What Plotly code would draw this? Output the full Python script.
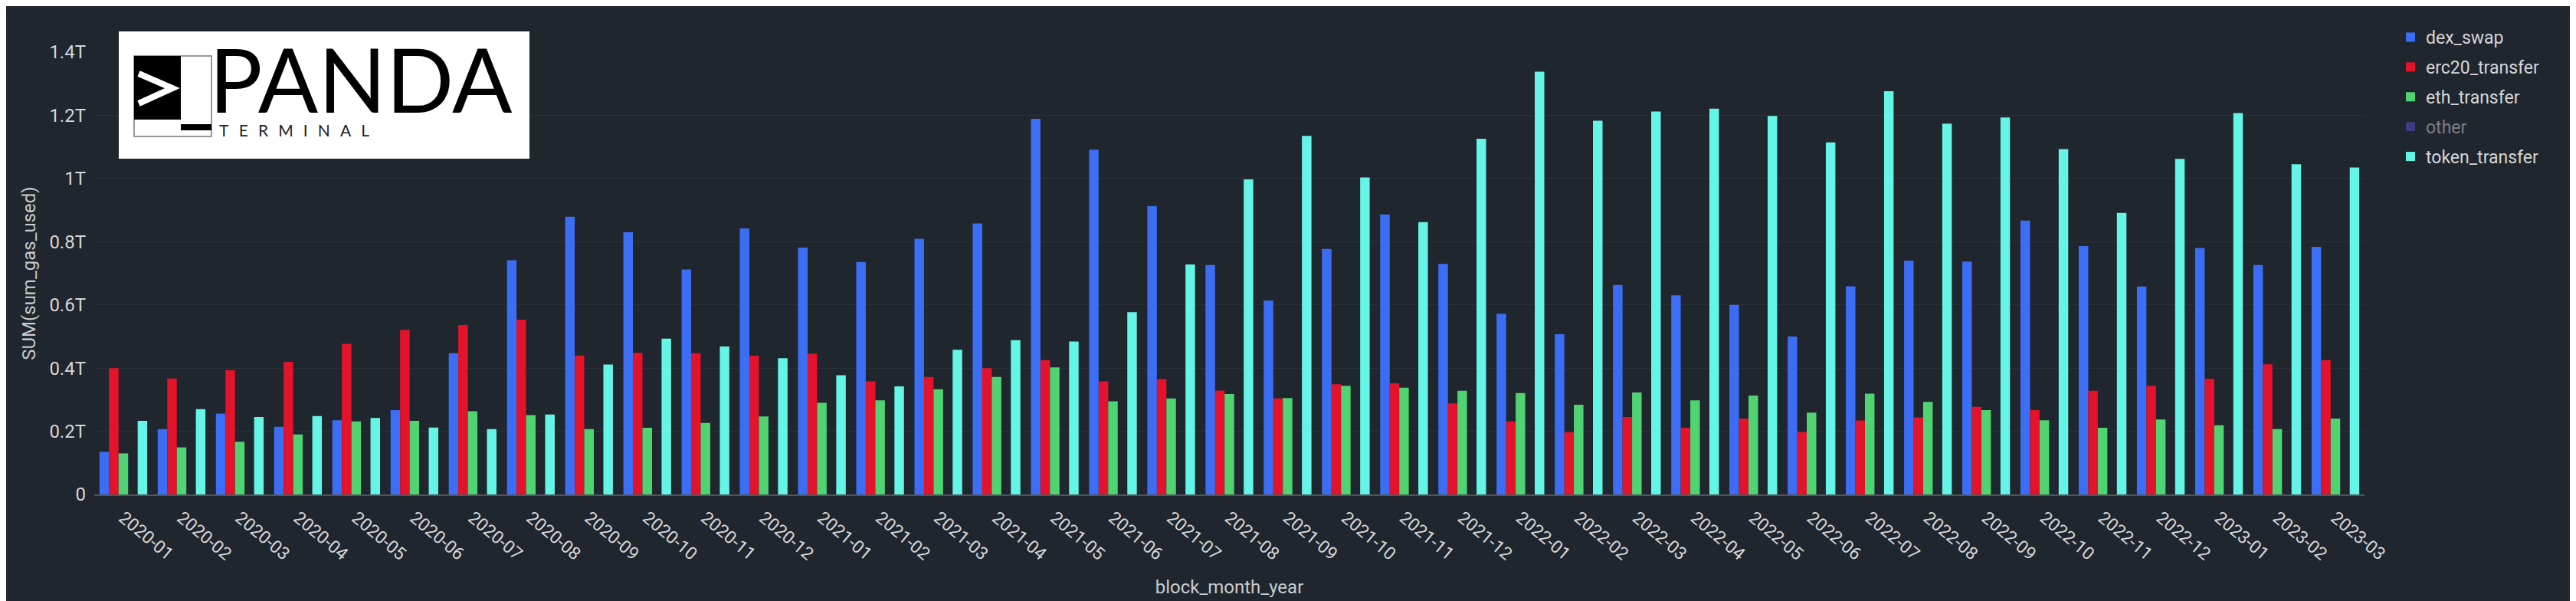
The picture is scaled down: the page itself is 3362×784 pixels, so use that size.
import plotly.graph_objects as go

# ---------------- data (values in trillions of gas) ----------------
months = [
    "2020-01", "2020-02", "2020-03", "2020-04", "2020-05", "2020-06", "2020-07", "2020-08",
    "2020-09", "2020-10", "2020-11", "2020-12", "2021-01", "2021-02", "2021-03", "2021-04",
    "2021-05", "2021-06", "2021-07", "2021-08", "2021-09", "2021-10", "2021-11", "2021-12",
    "2022-01", "2022-02", "2022-03", "2022-04", "2022-05", "2022-06", "2022-07", "2022-08",
    "2022-09", "2022-10", "2022-11", "2022-12", "2023-01", "2023-02", "2023-03",
]
dex_swap = [
    0.135, 0.207, 0.256, 0.214, 0.235, 0.267, 0.447, 0.741,
    0.879, 0.830, 0.712, 0.842, 0.781, 0.736, 0.809, 0.858,
    1.189, 1.091, 0.913, 0.726, 0.614, 0.777, 0.886, 0.730,
    0.572, 0.507, 0.663, 0.630, 0.600, 0.500, 0.659, 0.740,
    0.737, 0.867, 0.786, 0.658, 0.780, 0.726, 0.784,
]
erc20_transfer = [
    0.400, 0.367, 0.393, 0.420, 0.477, 0.521, 0.536, 0.553,
    0.440, 0.448, 0.447, 0.439, 0.445, 0.358, 0.372, 0.400,
    0.425, 0.358, 0.365, 0.329, 0.304, 0.349, 0.352, 0.288,
    0.231, 0.197, 0.245, 0.211, 0.240, 0.198, 0.234, 0.244,
    0.277, 0.267, 0.328, 0.344, 0.366, 0.412, 0.425,
]
eth_transfer = [
    0.130, 0.149, 0.167, 0.190, 0.231, 0.233, 0.263, 0.251,
    0.207, 0.211, 0.226, 0.247, 0.290, 0.298, 0.333, 0.372,
    0.402, 0.295, 0.304, 0.318, 0.305, 0.344, 0.338, 0.328,
    0.321, 0.284, 0.323, 0.298, 0.313, 0.259, 0.319, 0.293,
    0.267, 0.235, 0.211, 0.237, 0.219, 0.207, 0.240,
]
other = [
    0, 0, 0, 0, 0, 0, 0, 0, 0, 0, 0, 0, 0, 0, 0, 0, 0, 0, 0, 0,
    0, 0, 0, 0, 0, 0, 0, 0, 0, 0, 0, 0, 0, 0, 0, 0, 0, 0, 0,
]
token_transfer = [
    0.233, 0.270, 0.245, 0.248, 0.242, 0.212, 0.207, 0.253,
    0.411, 0.493, 0.468, 0.431, 0.377, 0.342, 0.458, 0.488,
    0.484, 0.577, 0.728, 0.997, 1.135, 1.003, 0.862, 1.126,
    1.338, 1.183, 1.212, 1.221, 1.198, 1.114, 1.276, 1.174,
    1.193, 1.093, 0.891, 1.062, 1.207, 1.045, 1.035,
]
y_tick_vals = [0, 0.2, 0.4, 0.6, 0.8, 1.0, 1.2, 1.4]
y_tick_text = ["0", "0.2T", "0.4T", "0.6T", "0.8T", "1T", "1.2T", "1.4T"]

series = [
    ("dex_swap", dex_swap, "#3C6DF5", True),
    ("erc20_transfer", erc20_transfer, "#E2132B", True),
    ("eth_transfer", eth_transfer, "#50D373", True),
    ("other", other, "#5A52D2", "legendonly"),
    ("token_transfer", token_transfer, "#64F5E7", True),
]

# ---------------- layout geometry ----------------
W, H = 3362, 784
ML, MR, MT, MB = 115, 284, 60, 147
PW, PH = W - ML - MR, H - MT - MB
BG = "#20262D"
TXT = "#D4D6D9"

bar_w = 0.164
slot0 = -0.41

fig = go.Figure()
for i, (name, vals, col, vis) in enumerate(series):
    fig.add_trace(go.Bar(
        x=months, y=vals, name=name, visible=vis,
        marker=dict(color=col, line=dict(width=0)),
        width=bar_w, offset=slot0 + i * bar_w,
        legendgroup=name,
    ))


def px_x(X):
    return (X - ML) / PW


def px_y(Y):
    return (H - MB - Y) / PH


shapes = []
annotations = []

# logo panel
shapes.append(dict(type="rect", xref="paper", yref="paper",
                   x0=px_x(147), x1=px_x(683), y0=px_y(199), y1=px_y(33),
                   fillcolor="white", line=dict(width=0), layer="above"))
shapes.append(dict(type="rect", xref="paper", yref="paper",
                   x0=px_x(167), x1=px_x(268), y0=px_y(170), y1=px_y(65),
                   fillcolor="white", line=dict(color="#777777", width=1.5), layer="above"))
shapes.append(dict(type="rect", xref="paper", yref="paper",
                   x0=px_x(167), x1=px_x(228), y0=px_y(148), y1=px_y(65),
                   fillcolor="black", line=dict(width=0), layer="above"))
shapes.append(dict(type="rect", xref="paper", yref="paper",
                   x0=px_x(228), x1=px_x(268), y0=px_y(162), y1=px_y(154),
                   fillcolor="black", line=dict(width=0), layer="above"))
chev = "M %f %f L %f %f L %f %f" % (px_x(173), px_y(88), px_x(217), px_y(107), px_x(173), px_y(127))
shapes.append(dict(type="path", xref="paper", yref="paper", path=chev,
                   line=dict(color="white", width=8), layer="above"))

sp = "\u2002\u2009"
logo_text = ("<span style='font-size:116px'>PANDA</span><br>"
             "<span style='font-size:21px;color:#222222'>" + sp + sp.join("TERMINAL") + "</span>")
annotations.append(dict(xref="paper", yref="paper", x=px_x(263), y=px_y(99),
                        text=logo_text, showarrow=False, xanchor="left", yanchor="middle",
                        align="left",
                        font=dict(family="Lato", size=24, color="black")))

# bottom border line of the panel
shapes.append(dict(type="line", xref="paper", yref="paper",
                   x0=px_x(0), x1=px_x(W), y0=px_y(782), y1=px_y(782),
                   line=dict(color="#3E444B", width=4)))

fig.update_layout(
    width=W, height=H,
    margin=dict(l=ML, r=MR, t=MT, b=MB, autoexpand=False),
    paper_bgcolor=BG, plot_bgcolor=BG,
    barmode="overlay",
    font=dict(family="Roboto", size=24, color=TXT),
    showlegend=True,
    legend=dict(
        x=px_x(3118), y=px_y(19), xanchor="left", yanchor="top",
        font=dict(family="Roboto", size=23, color=TXT),
        tracegroupgap=6, bgcolor="rgba(0,0,0,0)",
    ),
    shapes=shapes,
    annotations=annotations,
)
fig.update_xaxes(
    type="category", tickangle=40, showgrid=False,
    showline=True, linecolor="#4F555C", linewidth=2,
    ticks="", tickfont=dict(family="Roboto", size=23, color=TXT),
    ticklabelstandoff=6,
    title=dict(text="block_month_year", font=dict(family="Roboto", size=24, color="#C9CCCF"), standoff=22),
)
fig.update_yaxes(
    range=[0, 1.4], tickvals=y_tick_vals, ticktext=y_tick_text,
    showgrid=True, gridcolor="#2B3139", gridwidth=1, zeroline=False,
    ticks="", tickfont=dict(family="Roboto", size=24, color=TXT),
    ticklabelstandoff=10,
    title=dict(text="SUM(sum_gas_used)", font=dict(family="Roboto", size=24, color="#C9CCCF"), standoff=10),
)

fig.write_html("out.html")
